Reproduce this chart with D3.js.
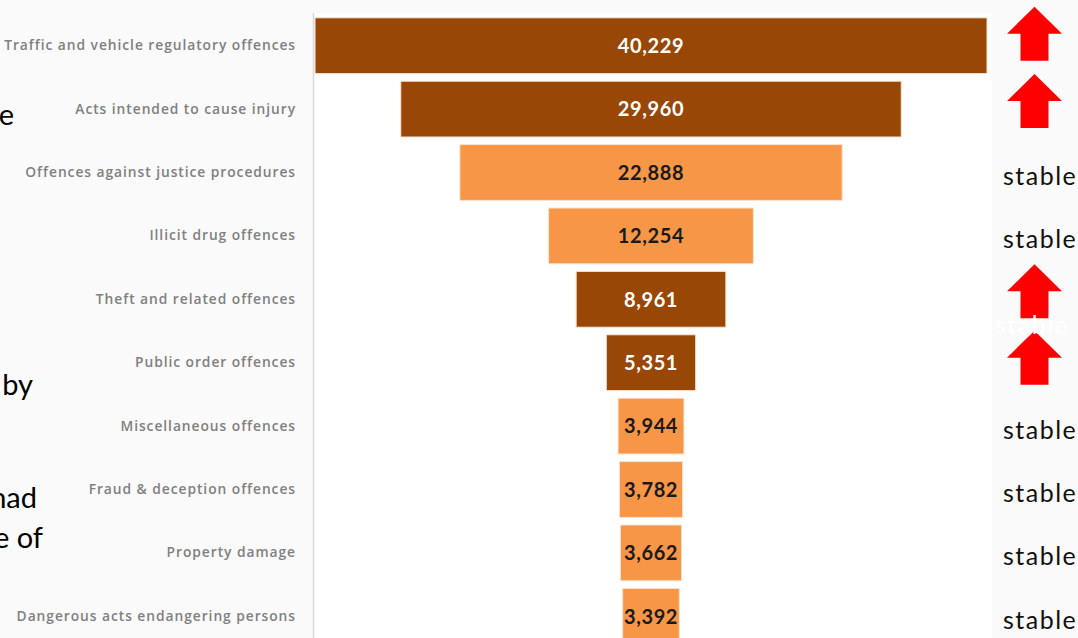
<!DOCTYPE html>
<html>
<head>
<meta charset="utf-8">
<script src="https://cdn.jsdelivr.net/npm/d3@7"></script>
<style>
  html, body { margin: 0; padding: 0; background: #fafafa; overflow: hidden; }
  svg { display: block; }
</style>
</head>
<body>
<div id="chart"></div>
<script>
// offence categories, top to bottom
var categories = [
    "Traffic and vehicle regulatory offences",
    "Acts intended to cause injury",
    "Offences against justice procedures",
    "Illicit drug offences",
    "Theft and related offences",
    "Public order offences",
    "Miscellaneous offences",
    "Fraud & deception offences",
    "Property damage",
    "Dangerous acts endangering persons"
];
var values = [40229, 29960, 22888, 12254, 8961, 5351, 3944, 3782, 3662, 3392];
var trends = ["up", "up", "stable", "stable", "up", "up", "stable", "stable", "stable", "stable"];

// bits of slide text sticking out from behind the chart
var sideText = [
    { t: "e", x: 14, y: 125 },
    { t: "by", x: 33, y: 395 },
    { t: "nad", x: 37, y: 508 },
    { t: "e of", x: 43, y: 548 }
];

var width = 1078, height = 638;
var cx = 651;

var svg = d3.select('#chart')
    .append('svg')
    .attr('width', width)
    .attr('height', height);

// chart area
svg.append('rect')
    .attr('x', 313).attr('y', 13)
    .attr('width', 679).attr('height', height - 13)
    .attr('fill', '#ffffff');
svg.append('line')
    .attr('x1', 313.5).attr('x2', 313.5)
    .attr('y1', 13).attr('y2', height)
    .attr('stroke', '#d9d9d9').attr('stroke-width', 1.5);

var x = d3.scaleLinear().domain([0, d3.max(values)]).range([0, 672]);
var y = d3.scaleBand().domain(categories).range([14, 648])
    .paddingInner(0.12).paddingOuter(0.06);

var rows = categories.map(function(c, i) {
    return { name: c, v: values[i], trend: trends[i] };
});

var dark = '#994706', light = '#f79646';

svg.selectAll('rect.bar').data(rows).enter().append('rect')
    .attr('class', 'bar')
    .attr('x', function(d) { return cx - x(d.v) / 2; })
    .attr('y', function(d) { return y(d.name); })
    .attr('width', function(d) { return x(d.v); })
    .attr('height', y.bandwidth())
    .attr('fill', function(d) { return d.trend == 'up' ? dark : light; })
    .attr('stroke', '#fbe3cf').attr('stroke-width', 1);

svg.selectAll('text.val').data(rows).enter().append('text')
    .attr('class', 'val')
    .attr('x', cx)
    .attr('y', function(d) { return y(d.name) + y.bandwidth() / 2; })
    .attr('dy', '0.36em')
    .attr('text-anchor', 'middle')
    .attr('font-family', 'Lato, sans-serif')
    .attr('font-weight', 'bold')
    .attr('font-size', 20)
    .attr('letter-spacing', 0.6)
    .attr('fill', function(d) { return d.trend == 'up' ? '#ffffff' : '#1a1a1a'; })
    .text(function(d) { return d3.format(',')(d.v); });

// category axis
var yAxis = d3.axisLeft(y).tickSize(0).tickPadding(0);
var ax = svg.append('g')
    .attr('transform', 'translate(296,0)')
    .call(yAxis);
ax.select('.domain').remove();
ax.selectAll('text')
    .attr('font-family', '"Open Sans", sans-serif')
    .attr('font-weight', 600)
    .attr('font-size', 13.8)
    .attr('letter-spacing', 0.95)
    .attr('fill', '#808080');

// trend markers on the right
var arrow = 'M0,-27 L27.5,0 L14,0 L14,27 L-14,27 L-14,0 L-27.5,0 Z';
var offs = [-12, -8, -8, -5];
var upRows = rows.filter(function(d) { return d.trend == 'up'; });
svg.selectAll('path.arrow').data(upRows).enter().append('path')
    .attr('class', 'arrow')
    .attr('d', arrow)
    .attr('fill', '#ff0000')
    .attr('transform', function(d, i) {
        return 'translate(1034.5,' + (y(d.name) + y.bandwidth() / 2 + offs[i]) + ')';
    });

svg.selectAll('text.trend').data(rows.filter(function(d) { return d.trend == 'stable'; }))
    .enter().append('text')
    .attr('class', 'trend')
    .attr('x', 1003)
    .attr('y', function(d) { return y(d.name) + y.bandwidth() / 2 + 2; })
    .attr('dy', '0.42em')
    .attr('font-family', 'Lato, sans-serif')
    .attr('font-size', 25)
    .attr('letter-spacing', 1.5)
    .attr('fill', '#111111')
    .text('stable');

// a white "stable" hidden behind the arrows
svg.append('text')
    .attr('x', 995)
    .attr('y', 334)
    .attr('font-family', 'Lato, sans-serif')
    .attr('font-size', 25)
    .attr('letter-spacing', 1.5)
    .attr('fill', '#ffffff')
    .text('stable');

svg.selectAll('text.side').data(sideText).enter().append('text')
    .attr('class', 'side')
    .attr('x', function(d) { return d.x; })
    .attr('y', function(d) { return d.y; })
    .attr('text-anchor', 'end')
    .attr('font-family', 'Lato, sans-serif')
    .attr('font-size', 29)
    .attr('fill', '#000000')
    .text(function(d) { return d.t; });
</script>
</body>
</html>
